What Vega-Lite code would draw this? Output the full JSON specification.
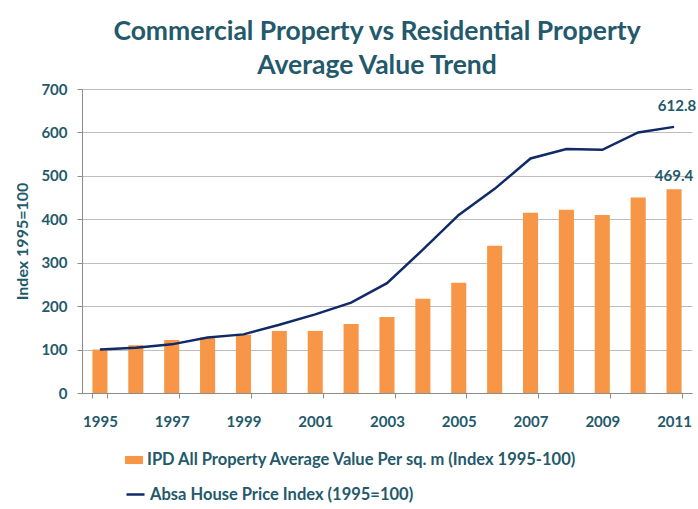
{
  "$schema": "https://vega.github.io/schema/vega-lite/v6.json",
  "width": 610,
  "height": 304,
  "autosize": "none",
  "padding": {"left": 82, "top": 89, "right": 6, "bottom": 116},
  "background": "white",
  "title": {
    "text": ["Commercial Property  vs Residential Property", "Average Value Trend"],
    "anchor": "middle",
    "dx": -10,
    "offset": 3,
    "font": "Lato",
    "fontSize": 26.5,
    "fontWeight": "bold",
    "color": "#23596A",
    "lineHeight": 34
  },
  "config": {
    "view": {"stroke": null},
    "font": "Lato",
    "axis": {
      "labelFont": "Lato",
      "labelFontWeight": "bold",
      "labelColor": "#23596A",
      "labelFontSize": 15,
      "titleFont": "Lato",
      "titleFontWeight": "bold",
      "titleColor": "#23596A",
      "titleFontSize": 16,
      "domainColor": "#8C8C8C",
      "tickColor": "#8C8C8C",
      "gridColor": "#BDBDBD"
    },
    "legend": {
      "labelFont": "Lato",
      "labelFontWeight": "bold",
      "labelColor": "#23596A",
      "labelFontSize": 16.5,
      "labelLimit": 600
    }
  },
  "data": {
    "values": [
      {"year": "1995", "ipd": 100, "absa": 100},
      {"year": "1996", "ipd": 110, "absa": 104},
      {"year": "1997", "ipd": 122, "absa": 112},
      {"year": "1998", "ipd": 128, "absa": 128},
      {"year": "1999", "ipd": 134, "absa": 135},
      {"year": "2000", "ipd": 143, "absa": 157},
      {"year": "2001", "ipd": 143, "absa": 181},
      {"year": "2002", "ipd": 159, "absa": 208},
      {"year": "2003", "ipd": 175, "absa": 253},
      {"year": "2004", "ipd": 217, "absa": 330},
      {"year": "2005", "ipd": 254, "absa": 410},
      {"year": "2006", "ipd": 339, "absa": 470},
      {"year": "2007", "ipd": 415, "absa": 540},
      {"year": "2008", "ipd": 422, "absa": 562},
      {"year": "2009", "ipd": 410, "absa": 560},
      {"year": "2010", "ipd": 450, "absa": 600},
      {"year": "2011", "ipd": 469.4, "absa": 612.8}
    ]
  },
  "encoding": {
    "x": {
      "field": "year",
      "type": "ordinal",
      "scale": {"paddingInner": 0.58, "paddingOuter": 0.29},
      "axis": {
        "title": null,
        "labelAngle": 0,
        "values": ["1995", "1997", "1999", "2001", "2003", "2005", "2007", "2009", "2011"],
        "tickBand": "extent",
        "tickSize": 5,
        "labelPadding": 16,
        "grid": false
      }
    }
  },
  "layer": [
    {
      "mark": {"type": "bar"},
      "encoding": {
        "y": {
          "field": "ipd",
          "type": "quantitative",
          "scale": {"domain": [0, 700], "nice": false},
          "axis": {
            "title": "Index 1995=100",
            "values": [0, 100, 200, 300, 400, 500, 600, 700],
            "tickSize": 5,
            "labelPadding": 10,
            "titlePadding": 10,
            "grid": true
          }
        },
        "fill": {
          "datum": "IPD All Property Average Value Per sq. m (Index 1995-100)",
          "scale": {"range": ["#F79646"]},
          "legend": {
            "title": null,
            "orient": "none",
            "legendX": 43,
            "legendY": 362,
            "symbolType": "M-1,-0.45H1V0.45H-1Z",
            "symbolSize": 324,
            "symbolOpacity": 1,
            "symbolStrokeWidth": 0,
            "labelOffset": 4
          }
        }
      }
    },
    {
      "mark": {"type": "line", "strokeWidth": 2.5},
      "encoding": {
        "y": {"field": "absa", "type": "quantitative"},
        "stroke": {
          "datum": "Absa House Price Index (1995=100)",
          "scale": {"range": ["#0F2A66"]},
          "legend": {
            "title": null,
            "orient": "none",
            "legendX": 43,
            "legendY": 395,
            "symbolType": "stroke",
            "symbolSize": 324,
            "symbolStrokeWidth": 2.5,
            "labelOffset": 4
          }
        }
      }
    },
    {
      "transform": [{"filter": "datum.year == '2011'"}],
      "mark": {"type": "text", "dy": -13, "dx": 3, "font": "Lato", "fontWeight": "bold", "fontSize": 15, "color": "#23596A", "baseline": "bottom"},
      "encoding": {
        "y": {"field": "absa", "type": "quantitative"},
        "text": {"field": "absa", "type": "quantitative", "format": ".1f"}
      }
    },
    {
      "transform": [{"filter": "datum.year == '2011'"}],
      "mark": {"type": "text", "dy": -5, "dx": 0, "font": "Lato", "fontWeight": "bold", "fontSize": 15, "color": "#23596A", "baseline": "bottom"},
      "encoding": {
        "y": {"field": "ipd", "type": "quantitative"},
        "text": {"field": "ipd", "type": "quantitative", "format": ".1f"}
      }
    }
  ]
}
